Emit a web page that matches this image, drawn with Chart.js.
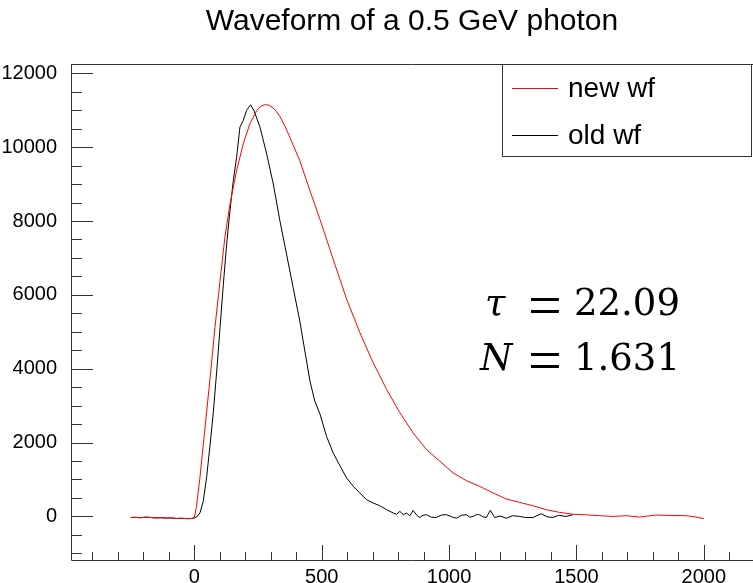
<!DOCTYPE html>
<html>
<head>
<meta charset="utf-8">
<script src="https://cdn.jsdelivr.net/npm/chart.js@4"></script>
<style>
body{margin:0;background:#fff;}
canvas{display:block;}
</style>
</head>
<body>
<canvas id="myChart" width="753" height="583"></canvas>
<script>
var titleText = "Waveform of a 0.5 GeV photon";
var newLabel = "new wf";
var oldLabel = "old wf";

// red curve (new wf)
var newX = [-250,-230,-210,-190,-170,-150,-130,-110,-90,-70,-50,-30,-10,0,
  8,22,42,62,81,101,120,140,166,192,218,245,262,277,292,310,323,336,355,375,414,454,493,545,
  598,650,702,755,807,859,911,964,1016,1068,1120,1173,1225,1277,1329,1382,1434,1486,1532,1591,
  1643,1696,1748,1813,1865,1931,1970,2000];
var newY = [-30,-25,-35,-20,-30,-40,-35,-45,-40,-55,-50,-60,-55,-40,
  250,1042,2400,3756,5113,6378,7555,8459,9363,10088,10631,10992,11110,11150,11140,11060,10960,10830,10580,10270,9635,8821,8050,6967,
  5881,4977,4163,3439,2806,2263,1810,1493,1178,969,814,635,472,380,290,182,109,60,46,19,
  0,19,-16,38,27,19,-16,-62];

// black curve (old wf)
var oldX = [-250,-230,-210,-190,-170,-150,-130,-110,-90,-70,-50,-30,-10,0,
  10,22,35,48,62,75,88,101,114,127,140,153,166,179,192,205,221,234,258,284,
  310,336,362,388,414,434,454,473,493,519,545,571,598,624,650,676,702,728,755,781,
  794,807,820,833,846,859,872,885,898,911,930,950,970,990,1010,1029,1048,1068,1081,1094,
  1107,1120,1133,1146,1162,1179,1200,1225,1250,1277,1300,1329,1345,1362,1385,1407,1430,1459,1486];
var oldY = [-30,-25,-35,-20,-30,-40,-35,-45,-40,-55,-50,-60,-55,-40,
  -10,92,407,1042,1946,2850,3935,5113,6288,7374,8278,9092,9727,10541,10720,10992,11146,10992,10541,9817,
  9002,8006,7103,6199,5293,4478,3664,3121,2780,2171,1721,1380,1042,814,635,453,364,290,182,92,
  60,136,50,92,20,163,40,-30,30,46,-20,-30,40,46,-10,-50,30,46,-20,0,
  50,46,-10,-30,163,-30,10,-50,20,0,-30,-30,20,73,-10,-30,30,0,46];

var xTicks = [0,500,1000,1500,2000];
var yTicks = [0,2000,4000,6000,8000,10000,12000];
var xMinorStep = 100;
var yMinorStep = 500;

var fitLines = [["τ","=","22.09"],["N","=","1.631"]];

function toPoints(xs, ys) {
  return xs.map(function (x, i) { return {x: x, y: ys[i]}; });
}

var rootFrame = {
  id: "rootFrame",
  afterDraw: function (chart) {
    var ctx = chart.ctx;
    var a = chart.chartArea;
    var sx = chart.scales.x, sy = chart.scales.y;
    ctx.save();
    ctx.strokeStyle = "#333";
    ctx.lineWidth = 1;
    ctx.beginPath();
    // frame
    ctx.moveTo(a.left + 0.5, a.top + 0.5);
    ctx.lineTo(a.right, a.top + 0.5);
    ctx.moveTo(a.left + 0.5, a.top);
    ctx.lineTo(a.left + 0.5, a.bottom + 0.5);
    ctx.lineTo(a.right, a.bottom + 0.5);
    // x ticks
    var v, p, len;
    for (v = Math.ceil(sx.min / xMinorStep) * xMinorStep; v <= sx.max; v += xMinorStep) {
      p = Math.round(sx.getPixelForValue(v)) + 0.5;
      len = (v % 500 === 0) ? 15 : 8;
      ctx.moveTo(p, a.bottom);
      ctx.lineTo(p, a.bottom - len);
    }
    // y ticks
    for (v = Math.ceil(sy.min / yMinorStep) * yMinorStep; v <= sy.max; v += yMinorStep) {
      p = Math.round(sy.getPixelForValue(v)) + 0.5;
      len = (v % 2000 === 0) ? 22 : 11;
      ctx.moveTo(a.left, p);
      ctx.lineTo(a.left + len, p);
    }
    ctx.stroke();

    // legend box
    ctx.fillStyle = "#fff";
    ctx.fillRect(502.5, 64.5, 249, 92);
    ctx.strokeRect(502.5, 64.5, 249, 92);
    ctx.font = "28px 'Liberation Sans', Arial, sans-serif";
    ctx.textBaseline = "middle";
    ctx.textAlign = "left";
    chart.data.datasets.forEach(function (ds, i) {
      var y = 88 + i * 47;
      ctx.strokeStyle = ds.borderColor;
      ctx.beginPath();
      ctx.moveTo(512, y + 0.5);
      ctx.lineTo(558, y + 0.5);
      ctx.stroke();
      ctx.fillStyle = "#000";
      ctx.fillText(ds.label, 568, y + 1);
    });

    // fit result text
    ctx.fillStyle = "#000";
    ctx.textBaseline = "alphabetic";
    fitLines.forEach(function (ln, i) {
      var base = 315 + i * 55;
      ctx.font = "italic 37px 'DejaVu Serif', serif";
      ctx.textAlign = "left";
      ctx.fillText(ln[0], i === 0 ? 485 : 480, base);
      ctx.font = "60px 'Liberation Serif', serif";
      ctx.textAlign = "center";
      ctx.fillText(ln[1], 545, base + 10);
      ctx.font = "37px 'DejaVu Serif', serif";
      ctx.textAlign = "left";
      ctx.fillText(ln[2], 574, base);
    });
    ctx.restore();
  }
};

function plainLabel(v) { return String(v); }

new Chart("myChart", {
  type: "line",
  data: {
    datasets: [{
      label: newLabel,
      data: toPoints(newX, newY),
      borderColor: "#ff0000",
      borderWidth: 1,
      pointRadius: 0,
      fill: false,
      tension: 0
    }, {
      label: oldLabel,
      data: toPoints(oldX, oldY),
      borderColor: "#000000",
      borderWidth: 1,
      pointRadius: 0,
      fill: false,
      tension: 0
    }]
  },
  options: {
    responsive: false,
    animation: false,
    layout: {padding: 0},
    plugins: {
      legend: {display: false},
      tooltip: {enabled: false},
      title: {
        display: true,
        text: titleText,
        fullSize: false,
        color: "#000",
        font: {family: "'Liberation Sans', Arial, sans-serif", size: 30, weight: "normal"},
        padding: {top: 4, bottom: 24}
      }
    },
    scales: {
      x: {
        type: "linear",
        min: -484,
        max: 2193,
        grid: {display: false},
        border: {display: false},
        ticks: {
          color: "#000",
          font: {family: "'Liberation Sans', Arial, sans-serif", size: 20},
          padding: -3,
          maxRotation: 0,
          autoSkip: false,
          callback: plainLabel
        },
        afterBuildTicks: function (s) { s.ticks = xTicks.map(function (v) { return {value: v}; }); },
        afterFit: function (s) { s.height = 23; }
      },
      y: {
        type: "linear",
        min: -1180,
        max: 12252,
        grid: {display: false},
        border: {display: false},
        ticks: {
          color: "#000",
          font: {family: "'Liberation Sans', Arial, sans-serif", size: 20},
          padding: 6,
          autoSkip: false,
          callback: plainLabel
        },
        afterBuildTicks: function (s) { s.ticks = yTicks.map(function (v) { return {value: v}; }); },
        afterFit: function (s) { s.width = 71; }
      }
    }
  },
  plugins: [rootFrame]
});
</script>
</body>
</html>
